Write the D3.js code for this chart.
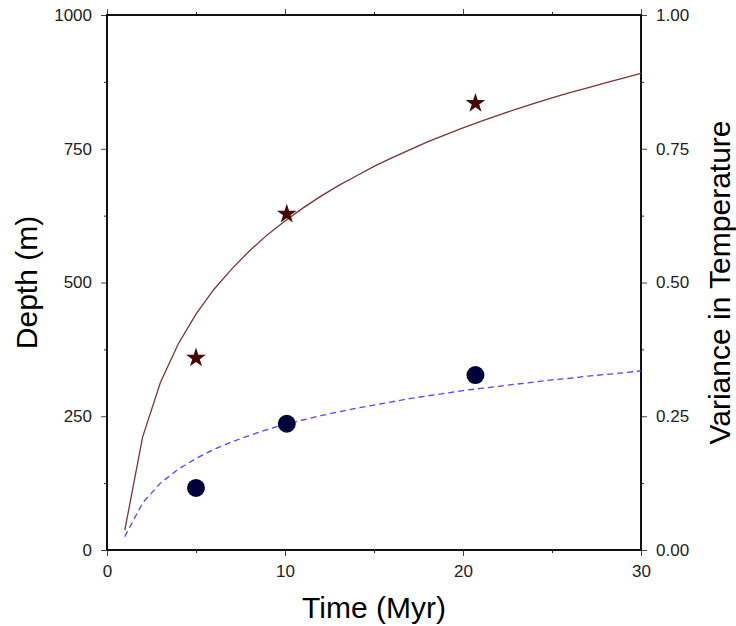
<!DOCTYPE html>
<html>
<head>
<meta charset="utf-8">
<script src="https://cdn.jsdelivr.net/npm/d3@7"></script>
<style>
  body { margin: 0; background: #fff; }
  svg text { font-family: "Liberation Sans", Arial, Helvetica, sans-serif; }
</style>
</head>
<body>
<svg id="chart" width="736" height="626"></svg>
<script>
// curve samples (one per Myr)
var curveTime     = [1, 2, 3, 4, 5, 6, 7, 8, 9, 10, 11, 12, 13, 14, 15, 16, 17, 18, 19, 20, 21, 22, 23, 24, 25, 26, 27, 28, 29, 30]
var depthCurve    = [37, 211, 313, 385, 441, 487, 525, 559, 589, 615, 639, 661, 681, 699, 717, 733, 748, 763, 776, 789, 801, 813, 824, 835, 845, 855, 864, 873, 882, 891]
var varianceCurve = [0.025, 0.088, 0.125, 0.151, 0.171, 0.188, 0.202, 0.214, 0.225, 0.235, 0.243, 0.251, 0.258, 0.265, 0.271,
                     0.277, 0.283, 0.288, 0.293, 0.298, 0.302, 0.306, 0.310, 0.314, 0.318, 0.321, 0.325, 0.328, 0.331, 0.335]

// observations
var obsTime     = [5, 10.1, 20.7]
var obsDepth    = [359, 628, 835]
var obsVariance = [0.116, 0.236, 0.327]

var xTicks = [0, 10, 20, 30]
var depthTicks = [0, 250, 500, 750, 1000]
var varTicks = [0, 0.25, 0.5, 0.75, 1]

var svg = d3.select("#chart"),
    margin = {top: 15, right: 95, bottom: 76, left: 107},
    width  = +svg.attr("width")  - margin.left - margin.right,
    height = +svg.attr("height") - margin.top  - margin.bottom;

var x  = d3.scaleLinear().domain([0, 30]).range([0, width]);
var yD = d3.scaleLinear().domain([0, 1000]).range([height, 0]);
var yV = d3.scaleLinear().domain([0, 1]).range([height, 0]);

var g = svg.append("g")
  .attr("transform", "translate(" + margin.left + "," + margin.top + ")");

// minor ticks (every half major) on all four sides
function minor(axis, scale, vals, tr) {
  g.append("g")
    .attr("transform", tr)
    .call(axis(scale).tickValues(vals).tickSize(3).tickFormat(""))
    .call(function(s){ s.select(".domain").remove(); s.selectAll("line").attr("stroke", "#222"); });
}
minor(d3.axisBottom, x, [5, 15, 25], "translate(0," + height + ")");
minor(d3.axisTop, x, [5, 15, 25], "translate(0,0)");
minor(d3.axisLeft, yD, [125, 375, 625, 875], "translate(0,0)");
minor(d3.axisRight, yD, [125, 375, 625, 875], "translate(" + width + ",0)");

function styleAxis(s) {
  s.select(".domain").remove();
  s.selectAll(".tick line").attr("stroke", "#444").attr("stroke-width", 1);
  s.selectAll(".tick text").attr("font-size", 17).attr("fill", "#222");
}

g.append("g")
  .attr("transform", "translate(0," + height + ")")
  .call(d3.axisBottom(x).tickValues(xTicks).tickSize(6).tickPadding(9).tickFormat(d3.format("d")))
  .call(styleAxis);

g.append("g")
  .call(d3.axisTop(x).tickValues(xTicks).tickSize(6).tickFormat(""))
  .call(styleAxis);

g.append("g")
  .call(d3.axisLeft(yD).tickValues(depthTicks).tickSize(6).tickPadding(9).tickFormat(d3.format("d")))
  .call(styleAxis);

g.append("g")
  .attr("transform", "translate(" + width + ",0)")
  .call(d3.axisRight(yV).tickValues(varTicks).tickSize(6).tickPadding(9).tickFormat(d3.format(".2f")))
  .call(styleAxis);

// frame
g.append("rect")
  .attr("width", width)
  .attr("height", height)
  .attr("fill", "none")
  .attr("stroke", "#111")
  .attr("stroke-width", 2);

var depthLine = d3.line()
  .x(function(d, i) { return x(curveTime[i]); })
  .y(function(d) { return yD(d); });

var varLine = d3.line()
  .x(function(d, i) { return x(curveTime[i]); })
  .y(function(d) { return yV(d); });

g.append("path")
  .datum(depthCurve)
  .attr("d", depthLine)
  .attr("fill", "none")
  .attr("stroke", "#7a3535")
  .attr("stroke-width", 1.3);

g.append("path")
  .datum(varianceCurve)
  .attr("d", varLine)
  .attr("fill", "none")
  .attr("stroke", "#4a4aff")
  .attr("stroke-width", 1.3)
  .attr("stroke-dasharray", "6,4");

var star = d3.symbol().type(d3.symbolStar).size(120);

g.selectAll(".star")
  .data(obsDepth)
  .enter().append("path")
    .attr("class", "star")
    .attr("d", star)
    .attr("transform", function(d, i) { return "translate(" + x(obsTime[i]) + "," + yD(d) + ")"; })
    .attr("fill", "#4a0505");

g.selectAll(".dot")
  .data(obsVariance)
  .enter().append("circle")
    .attr("class", "dot")
    .attr("cx", function(d, i) { return x(obsTime[i]); })
    .attr("cy", function(d) { return yV(d); })
    .attr("r", 9)
    .attr("fill", "#00003a");

// axis titles
svg.append("text")
  .attr("x", margin.left + width / 2)
  .attr("y", 618)
  .attr("text-anchor", "middle")
  .attr("font-size", 30)
  .text("Time (Myr)");

svg.append("text")
  .attr("transform", "translate(37," + (margin.top + height / 2) + ") rotate(-90)")
  .attr("text-anchor", "middle")
  .attr("font-size", 30)
  .text("Depth (m)");

svg.append("text")
  .attr("transform", "translate(730," + (margin.top + height / 2) + ") rotate(-90)")
  .attr("text-anchor", "middle")
  .attr("font-size", 30)
  .text("Variance in Temperature");
</script>
</body>
</html>
